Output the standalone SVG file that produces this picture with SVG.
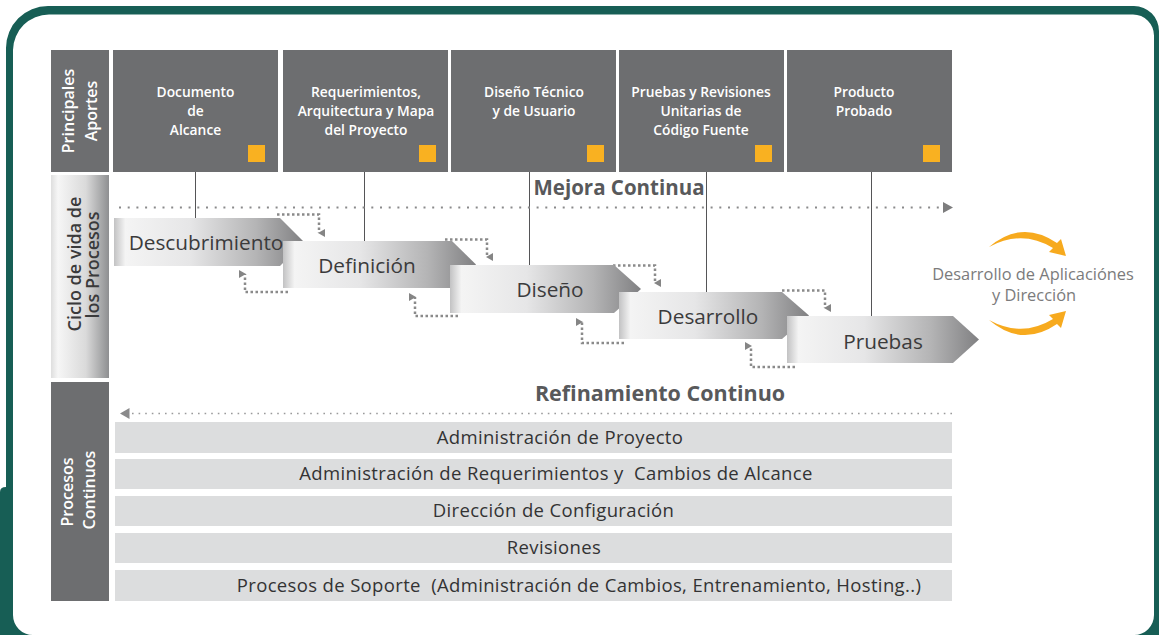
<svg xmlns="http://www.w3.org/2000/svg" width="1159" height="635" viewBox="0 0 1159 635">
<defs>
<linearGradient id="chev" x1="0" y1="0" x2="1" y2="0">
<stop offset="0" stop-color="#c2c2c3"/>
<stop offset="0.06" stop-color="#f4f4f4"/>
<stop offset="0.4" stop-color="#e6e6e7"/>
<stop offset="0.75" stop-color="#b4b4b5"/>
<stop offset="1" stop-color="#808082"/>
</linearGradient>
<linearGradient id="side" x1="0" y1="0" x2="1" y2="0">
<stop offset="0" stop-color="#dedede"/>
<stop offset="0.12" stop-color="#f6f6f6"/>
<stop offset="0.6" stop-color="#dadada"/>
<stop offset="1" stop-color="#8e8f91"/>
</linearGradient>
<marker id="dn" viewBox="0 0 8 7" refX="4" refY="6" markerWidth="8" markerHeight="7" markerUnits="userSpaceOnUse" orient="auto-start-reverse">
<path d="M0,0 L8,0 L4,7 Z" fill="#858585"/>
</marker>
</defs>
<style>
.box{fill:#6d6e70}
.hdr{font-family:"Open Sans","Liberation Sans",sans-serif;font-size:13.8px;font-weight:600;fill:#ffffff;text-anchor:middle}
.sq{fill:#f9b121}
.side{font-family:"Open Sans","Liberation Sans",sans-serif;font-size:16px;font-weight:600;text-anchor:middle}
.vl{stroke:#555557;stroke-width:1;fill:none}
.loop{stroke:#8a8a8a;stroke-width:2.5;stroke-dasharray:2.5 2.5;fill:none}
.chev{fill:url(#chev)}
.ct{font-family:"Open Sans","Liberation Sans",sans-serif;font-size:20.8px;fill:#3b3b3c;text-anchor:middle}
.bar{fill:#dcddde}
.bt{font-family:"Open Sans","Liberation Sans",sans-serif;font-size:18.5px;letter-spacing:0.35px;fill:#333334;text-anchor:middle;white-space:pre}
.ttl{font-family:"Open Sans","Liberation Sans",sans-serif;font-weight:700;fill:#58595b;text-anchor:middle}
.rt{font-family:"Open Sans","Liberation Sans",sans-serif;font-size:16.4px;fill:#7b7b7c;text-anchor:middle}
.orange{fill:#f7aa1e}
</style>
<rect width="1159" height="635" fill="#ffffff"/>
<g id="frame">
<path d="M0,492 Q0,487 6,487 V48 A42,42 0 0 1 48,6 H1134 A25,25 0 0 1 1159,31 V635 H0 Z" fill="#175e55"/>
<path d="M13,50 A36,36 0 0 1 49,14.5 H1133 A21,21 0 0 1 1154,35.5 V615 A20,20 0 0 1 1134,635 H33 A20,20 0 0 1 13,615 Z" fill="#ffffff"/>
</g>
<g id="label-aportes">
<rect class="box" x="51" y="50" width="58" height="122"/>
<text class="side" fill="#ffffff" transform="translate(74,111) rotate(-90)">Principales</text>
<text class="side" fill="#ffffff" transform="translate(97,111) rotate(-90)">Aportes</text>
</g>
<g id="label-ciclo">
<rect x="51" y="175" width="58" height="203" fill="url(#side)"/>
<text class="side" style="font-size:18px" fill="#3a3a3b" transform="translate(80.5,264) rotate(-90)">Ciclo de vida de</text>
<text class="side" style="font-size:18px" fill="#3a3a3b" transform="translate(99,265) rotate(-90)">los Procesos</text>
</g>
<g id="label-continuos">
<rect class="box" x="51" y="382" width="58" height="219"/>
<text class="side" fill="#ffffff" transform="translate(72.5,492) rotate(-90)">Procesos</text>
<text class="side" fill="#ffffff" transform="translate(95,490) rotate(-90)">Continuos</text>
</g>
<g id="aporte-1">
<rect class="box" x="113" y="50" width="165" height="122"/>
<text class="hdr" x="195.5" y="97">Documento</text>
<text class="hdr" x="195.5" y="116">de</text>
<text class="hdr" x="195.5" y="135">Alcance</text>
<rect class="sq" x="248" y="145" width="17" height="17"/>
</g>
<g id="aporte-2">
<rect class="box" x="283" y="50" width="165" height="122"/>
<text class="hdr" x="366" y="97">Requerimientos,</text>
<text class="hdr" x="366" y="116">Arquitectura y Mapa</text>
<text class="hdr" x="366" y="135">del Proyecto</text>
<rect class="sq" x="419" y="145" width="17" height="17"/>
</g>
<g id="aporte-3">
<rect class="box" x="451" y="50" width="165" height="122"/>
<text class="hdr" x="534" y="97">Diseño Técnico</text>
<text class="hdr" x="534" y="116">y de Usuario</text>
<rect class="sq" x="587" y="145" width="17" height="17"/>
</g>
<g id="aporte-4">
<rect class="box" x="619" y="50" width="165" height="122"/>
<text class="hdr" x="701" y="97">Pruebas y Revisiones</text>
<text class="hdr" x="701" y="116">Unitarias de</text>
<text class="hdr" x="701" y="135">Código Fuente</text>
<rect class="sq" x="755" y="145" width="17" height="17"/>
</g>
<g id="aporte-5">
<rect class="box" x="787" y="50" width="165" height="122"/>
<text class="hdr" x="864" y="97">Producto</text>
<text class="hdr" x="864" y="116">Probado</text>
<rect class="sq" x="923" y="145" width="17" height="17"/>
</g>
<g id="connectors">
<line class="vl" x1="195.5" y1="172" x2="195.5" y2="218"/>
<line class="vl" x1="364.5" y1="172" x2="364.5" y2="241"/>
<line class="vl" x1="529.5" y1="172" x2="529.5" y2="265"/>
<line class="vl" x1="706.5" y1="172" x2="706.5" y2="292"/>
<line class="vl" x1="871.5" y1="172" x2="871.5" y2="316"/>
<line x1="119" y1="207.5" x2="940" y2="207.5" stroke="#8a8a8b" stroke-width="2" stroke-dasharray="2 6.7"/>
<path d="M943,202 L953,207.5 L943,213 Z" fill="#7d7d7e"/>
<line x1="132" y1="413.5" x2="953" y2="413.5" stroke="#9a9a9b" stroke-width="1.6" stroke-dasharray="1.6 5"/>
<path d="M129.5,408 L120,413.5 L129.5,419 Z" fill="#8a8a8b"/>
<path class="loop" d="M277,214.5 H319 V233" marker-end="url(#dn)"/>
<path class="loop" d="M288,292 H245 V274" marker-end="url(#dn)"/>
<path class="loop" d="M445,239.5 H487 V257" marker-end="url(#dn)"/>
<path class="loop" d="M458,316 H415 V297" marker-end="url(#dn)"/>
<path class="loop" d="M613,265.5 H655 V283" marker-end="url(#dn)"/>
<path class="loop" d="M624,343 H582 V322" marker-end="url(#dn)"/>
<path class="loop" d="M782,290.5 H825 V308" marker-end="url(#dn)"/>
<path class="loop" d="M795,367 H751 V346" marker-end="url(#dn)"/>
</g>
<g id="fase-descubrimiento">
<path class="chev" d="M114,218 H280 L304,242 L280,266 H114 Z"/>
<text class="ct" x="206" y="249.5">Descubrimiento</text>
</g>
<g id="fase-definicion">
<path class="chev" d="M283,241 H452 L476,264.5 L452,288 H283 Z"/>
<text class="ct" x="367" y="272.5">Definición</text>
</g>
<g id="fase-diseno">
<path class="chev" d="M450,265 H614 L641,289 L614,313 H450 Z"/>
<text class="ct" x="550" y="296.5">Diseño</text>
</g>
<g id="fase-desarrollo">
<path class="chev" d="M619,292 H782 L809,315.5 L782,339 H619 Z"/>
<text class="ct" x="708" y="324">Desarrollo</text>
</g>
<g id="fase-pruebas">
<path class="chev" d="M787,316 H953 L979,339.5 L953,363 H787 Z"/>
<text class="ct" x="883" y="348.5">Pruebas</text>
</g>
<g id="mejora-label">
<text class="ttl" style="font-size:20.5px" x="619" y="195">Mejora Continua</text>
</g>
<g id="refinamiento-label">
<text class="ttl" style="font-size:21.5px" x="660" y="400.5">Refinamiento Continuo</text>
</g>
<g id="proceso-1">
<rect class="bar" x="115" y="422" width="837" height="31"/>
<text class="bt" x="560" y="443.5">Administración de Proyecto</text>
</g>
<g id="proceso-2">
<rect class="bar" x="115" y="459" width="837" height="30"/>
<text class="bt" x="556" y="480">Administración de Requerimientos y  Cambios de Alcance</text>
</g>
<g id="proceso-3">
<rect class="bar" x="115" y="496" width="837" height="30"/>
<text class="bt" x="553.5" y="517">Dirección de Configuración</text>
</g>
<g id="proceso-4">
<rect class="bar" x="115" y="533" width="837" height="30"/>
<text class="bt" x="554" y="554">Revisiones</text>
</g>
<g id="proceso-5">
<rect class="bar" x="115" y="570" width="837" height="31"/>
<text class="bt" x="579" y="591.5">Procesos de Soporte  (Administración de Cambios, Entrenamiento, Hosting..)</text>
</g>
<g id="resultado">
<path class="orange" d="M989,247 Q1022,219 1057,243 L1061,239 L1066,256 L1049,252 L1053,248 Q1022,229 989,247 Z"/>
<path class="orange" d="M989,320 Q1022,348 1057,324 L1061,328 L1066,311 L1049,315 L1053,319 Q1022,338 989,320 Z"/>
<text class="rt" x="1033" y="280">Desarrollo de Aplicaciónes</text>
<text class="rt" x="1034" y="301">y Dirección</text>
</g>
</svg>
